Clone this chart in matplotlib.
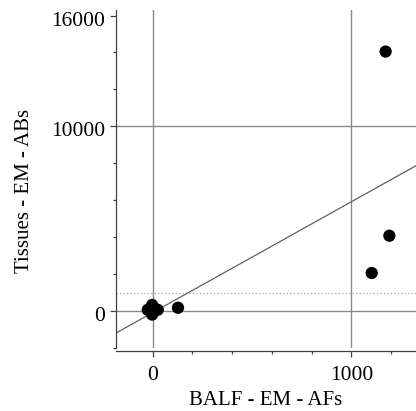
import matplotlib
matplotlib.use('Agg')
import matplotlib.pyplot as plt
import matplotlib.transforms as mtransforms
from matplotlib.ticker import MultipleLocator, FixedLocator

# scatter values
balf_afs = [-25, 25, -3, -3, 0, 3, 127, 1102, 1191, 1172]
tissue_abs = [70, 70, 330, -190, 70, 20, 180, 2060, 4080, 14050]

# fitted line and reference level
fit_slope = 6.0
fit_intercept = -80
ref_level = 1000

x_major = [0, 1000]
y_major = [0, 10000, 16000]

plt.rcParams['font.family'] = ['Liberation Serif', 'DejaVu Serif']

fig = plt.figure(figsize=(4.16, 4.11), dpi=100)
ax = fig.add_axes([116 / 416, (411 - 348) / 411, 300 / 416, 338 / 411])
ax.set_xlim(-185, 1325)
ax.set_ylim(-2000, 16300)

# reference lines
for xv in x_major:
    ax.axvline(xv, color='#8a8a8a', lw=1.0, zorder=1)
for yv in [0, 10000]:
    ax.axhline(yv, color='#8a8a8a', lw=1.0, zorder=1)
ax.axhline(ref_level, color='#b0b0b0', lw=1.0, ls=(0, (1, 1.5)), zorder=1)

# regression line
xl = ax.get_xlim()
ax.plot(xl, [fit_slope * v + fit_intercept for v in xl], color='#606060', lw=0.9, zorder=2)
ax.set_xlim(xl)

ax.scatter(balf_afs, tissue_abs, s=78, color='black', edgecolors='none', zorder=3)

for side in ['top', 'right']:
    ax.spines[side].set_visible(False)
ax.spines['bottom'].set_position(('outward', 2))
for side in ['left', 'bottom']:
    ax.spines[side].set_color('#404040')
    ax.spines[side].set_linewidth(0.9)

ax.xaxis.set_major_locator(FixedLocator(x_major))
ax.xaxis.set_minor_locator(MultipleLocator(200))
ax.yaxis.set_major_locator(FixedLocator(y_major))
ax.yaxis.set_minor_locator(MultipleLocator(2000))
ax.tick_params(which='major', length=4, width=0.9, color='#404040', labelsize=15.5, pad=4)
ax.tick_params(which='minor', length=2.5, width=0.9, color='#404040')
ax.tick_params(axis='x', which='major', pad=7)

# the reference's y tick labels sit a few pixels below their ticks
shift = mtransforms.ScaledTranslation(0, -3 / 100, fig.dpi_scale_trans)
for lbl in ax.get_yticklabels():
    lbl.set_transform(lbl.get_transform() + shift)

ax.set_xlabel('BALF - EM - AFs', fontsize=15, labelpad=4)
ax.set_ylabel('Tissues - EM - ABs', fontsize=15)
ax.yaxis.set_label_coords(-0.273, 0.464)

fig.savefig('out.png', dpi=100)
